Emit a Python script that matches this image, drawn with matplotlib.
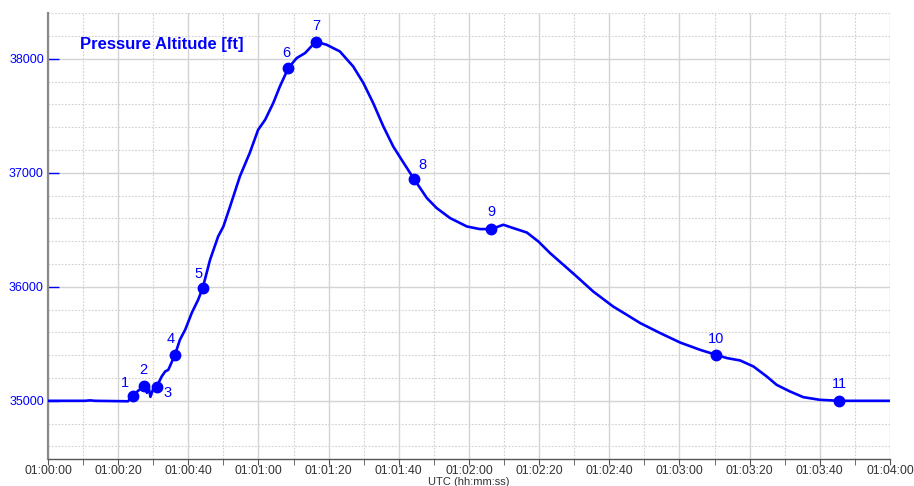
import matplotlib
matplotlib.use("Agg")
import matplotlib.pyplot as plt
from matplotlib.ticker import MultipleLocator, FuncFormatter

plt.rcParams['font.family'] = ['Liberation Sans', 'DejaVu Sans']

# seconds after 01:00:00
times = [0, 10.5, 12.0, 13.4, 22.8, 24.1, 25.7, 27.4, 28.2, 28.8, 29.2, 29.9, 31.0,
         32.4, 33.4, 34.3, 36.2, 37.6, 39.1, 41.0, 42.8, 44.1, 46.2, 48.5, 50.0,
         51.9, 54.7, 57.5, 59.9, 61.9, 64.2, 66.1, 68.5, 70.9, 73.3, 76.3, 79.4,
         83.2, 87.0, 89.9, 92.7, 95.6, 98.4, 100.8, 104.3, 108.0, 110.8, 114.6,
         119.4, 123.1, 126.3, 129.8, 132.6, 136.5, 139.8, 143.1, 146.9, 150.7,
         155.4, 161.1, 165.0, 168.8, 174.5, 180.2, 185.9, 190.4, 193.5, 197.3,
         201.1, 204.9, 207.7, 211.5, 215.3, 220.0, 225.6, 240]
altitude = [35000, 35000, 35004, 35000, 34996, 35044, 35088, 35132, 35070, 35105,
            35035, 35096, 35125, 35213, 35257, 35272, 35404, 35535, 35623, 35772,
            35886, 35989, 36237, 36441, 36529, 36704, 36968, 37173, 37377, 37465,
            37611, 37757, 37918, 38006, 38050, 38149, 38123, 38064, 37932, 37787,
            37611, 37406, 37231, 37114, 36947, 36778, 36690, 36603, 36529, 36506,
            36506, 36544, 36515, 36476, 36397, 36296, 36193, 36090, 35959, 35827,
            35754, 35682, 35594, 35511, 35447, 35404, 35375, 35354, 35301, 35213,
            35140, 35082, 35032, 35009, 35000, 35000]

marker_times = [24.1, 27.4, 31.0, 36.2, 44.1, 68.5, 76.3, 104.3, 126.3, 190.4, 225.6]
marker_alts = [35044, 35132, 35125, 35404, 35989, 37918, 38149, 36947, 36506, 35404, 35000]
marker_labels = ['1', '2', '3', '4', '5', '6', '7', '8', '9', '10', '11']
label_offsets = [(-5.5, 9.5), (-0.5, 11), (8, -4.5), (-3, 11), (-3, 10), (-1.5, 11),
                 (0.5, 11), (6, 10), (0, 12), (0, 11.5), (0, 12)]

BLUE = '#0000FF'

fig = plt.figure(figsize=(9.14, 4.86), dpi=100)
ax = fig.add_axes([0.0525, 0.0556, 0.9212, 0.9174])

ax.plot(times, altitude, color=BLUE, lw=1.9, zorder=3, solid_joinstyle='round')
ax.plot(marker_times, marker_alts, 'o', color=BLUE, ms=7.5, zorder=4)
for t, a, lab, off in zip(marker_times, marker_alts, marker_labels, label_offsets):
    ax.annotate(lab, (t, a), xytext=off, textcoords='offset points',
                ha='center', va='center', color=BLUE, fontsize=10.5, zorder=5)

ax.set_xlim(0, 240)
ax.set_ylim(34490, 38400)

ax.xaxis.set_major_locator(MultipleLocator(20))
ax.xaxis.set_minor_locator(MultipleLocator(10))
ax.yaxis.set_major_locator(MultipleLocator(1000))
ax.yaxis.set_minor_locator(MultipleLocator(200))

def fmt(v, pos):
    v = int(round(v))
    return "01:%02d:%02d" % (v // 60, v % 60)
ax.xaxis.set_major_formatter(FuncFormatter(fmt))

ax.grid(which='major', color='#d4d4d4', lw=1.0, ls='-', zorder=0)
ax.grid(which='minor', color='#cfcfcf', lw=0.8, ls=(0, (1.5, 1.5)), zorder=0)
ax.set_axisbelow(True)

for s in ['top', 'right']:
    ax.spines[s].set_visible(False)
ax.spines['left'].set_color('#8a8a8a')
ax.spines['left'].set_linewidth(1.6)
ax.spines['bottom'].set_color('#555555')
ax.spines['bottom'].set_linewidth(1.0)

ax.tick_params(axis='x', which='both', direction='out', length=4, color='#555555',
               labelsize=8.8, labelcolor='#333333', pad=0.5)
ax.tick_params(axis='y', which='major', direction='in', length=8, color=BLUE,
               labelsize=9, labelcolor=BLUE, pad=3, width=1.0)
ax.tick_params(axis='y', which='minor', length=0)

ax.set_xlabel('UTC (hh:mm:ss)', fontsize=8, color='#333333', labelpad=0)

ax.text(0.038, 0.93, 'Pressure Altitude [ft]', transform=ax.transAxes,
        color=BLUE, fontsize=12, fontweight='bold', ha='left', va='center')

fig.savefig('out.png', dpi=100)
